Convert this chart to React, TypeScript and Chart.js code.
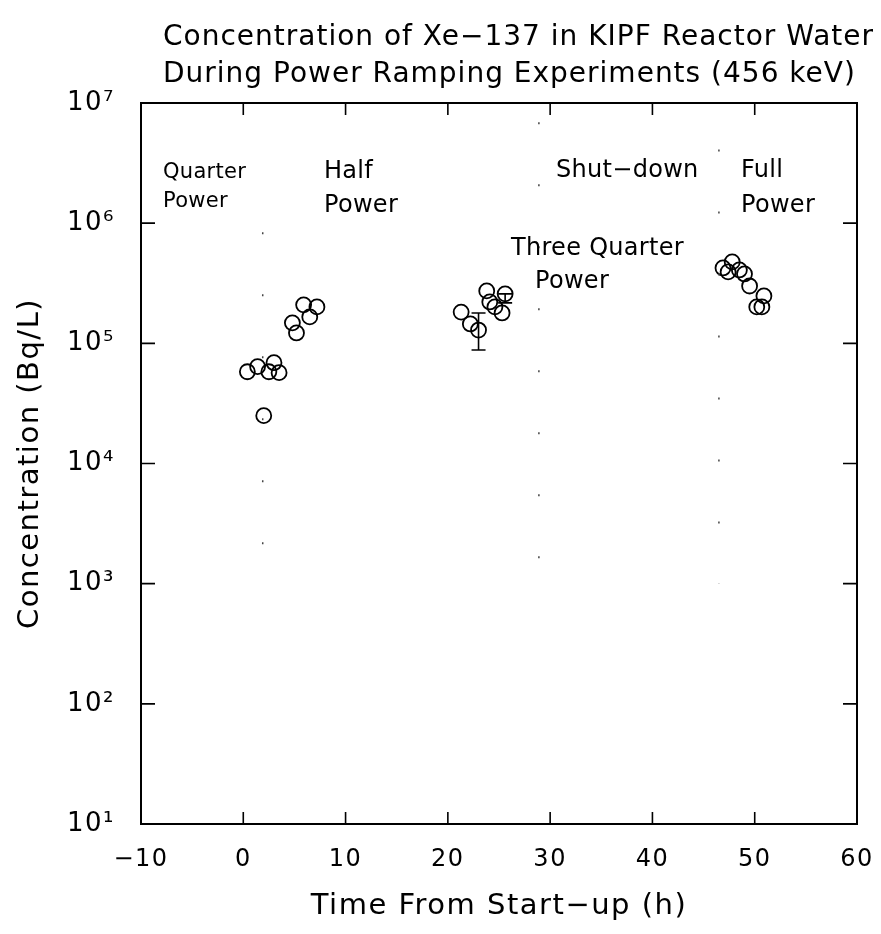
import React, { useEffect, useRef } from "react";
import { Chart, registerables } from "chart.js";

Chart.register(...registerables);

const FONT = "'DejaVu Sans', 'Liberation Sans', sans-serif";

// ---- Data (hours since start-up, Bq/L) ----
const quarterX = [0.4, 1.4, 2.5, 3.0, 3.5, 2.0];
const quarterY = [5.8e4, 6.4e4, 5.8e4, 6.9e4, 5.7e4, 2.5e4];
const halfX = [4.8, 5.2, 5.9, 6.5, 7.2];
const halfY = [1.48e5, 1.22e5, 2.09e5, 1.66e5, 2.01e5];
const threeQuarterX = [21.3, 22.2, 23.0, 23.8, 24.1, 24.6, 25.6, 25.3];
const threeQuarterY = [1.82e5, 1.45e5, 1.29e5, 2.73e5, 2.21e5, 2.01e5, 2.58e5, 1.79e5];
const fullX = [46.9, 47.4, 47.8, 48.5, 49.0, 49.5, 50.2, 50.7, 50.9];
const fullY = [4.24e5, 3.93e5, 4.76e5, 4.08e5, 3.78e5, 3.0e5, 2.01e5, 2.01e5, 2.48e5];

// error bars
const errX = [23.0, 25.6];
const errLow = [8.8e4, 2.17e5];
const errHigh = [1.79e5, 2.58e5];

// dotted phase dividers
const dividerX = [1.9, 28.9, 46.5];
const dividerTop = [8.4e5, 6.9e6, 4.1e6];
const dividerBottom = [1.8e3, 1.5e3, 1.0e3];

// ticks
const xTicks = [-10, 0, 10, 20, 30, 40, 50, 60];
const yTicks = [1e1, 1e2, 1e3, 1e4, 1e5, 1e6, 1e7];

// phase labels (anchored in data coordinates: left edge / baseline)
const phaseLabels = ["Quarter", "Power", "Half", "Power", "Shut\u2212down", "Full", "Power", "Three Quarter", "Power"];
const phaseLabelX = [-7.85, -7.85, 7.89, 7.89, 30.57, 48.66, 48.66, 26.17, 28.52];
const phaseLabelY = [2.38e6, 1.36e6, 2.38e6, 1.24e6, 2.42e6, 2.42e6, 1.24e6, 5.43e5, 2.88e5];
const phaseLabelSize = [21, 21, 24, 24, 24, 24, 24, 24, 24];

const titleLines = [
  "Concentration of Xe\u2212137 in KIPF Reactor Water",
  "During Power Ramping Experiments (456 keV)",
];

const SUP: Record<string, string> = {
  "0": "\u2070", "1": "\u00b9", "2": "\u00b2", "3": "\u00b3", "4": "\u2074",
  "5": "\u2075", "6": "\u2076", "7": "\u2077", "8": "\u2078", "9": "\u2079",
};

export default function App() {
  const ref = useRef<HTMLCanvasElement>(null);

  useEffect(() => {
    const canvas = ref.current;
    if (!canvas) return;

    const pts = (xs: number[], ys: number[]) => xs.map((x, i) => ({ x, y: ys[i] }));
    const circleStyle = {
      pointRadius: 7.5,
      pointHoverRadius: 7.5,
      pointBorderWidth: 1.8,
      pointBorderColor: "#000",
      pointBackgroundColor: "rgba(0,0,0,0)",
      borderColor: "#000",
      backgroundColor: "rgba(0,0,0,0)",
      showLine: false,
    };

    const spacingPlugin = {
      id: "spacing",
      beforeDraw(chart: any) {
        (chart.ctx as any).letterSpacing = "1.5px";
      },
      afterDraw(chart: any) {
        (chart.ctx as any).letterSpacing = "0px";
      },
    };

    const framePlugin = {
      id: "frame",
      afterDatasetsDraw(chart: any) {
        const { ctx, chartArea: a, scales } = chart;
        const x = scales.x;
        const y = scales.y;
        ctx.save();
        ctx.strokeStyle = "#000";
        ctx.lineWidth = 2;
        ctx.strokeRect(a.left, a.top, a.right - a.left, a.bottom - a.top);
        ctx.lineWidth = 1.6;
        ctx.beginPath();
        xTicks.forEach((v) => {
          const px = x.getPixelForValue(v);
          if (px <= a.left + 1 || px >= a.right - 1) return;
          ctx.moveTo(px, a.bottom);
          ctx.lineTo(px, a.bottom - 12);
          ctx.moveTo(px, a.top);
          ctx.lineTo(px, a.top + 12);
        });
        yTicks.forEach((v) => {
          const py = y.getPixelForValue(v);
          if (py <= a.top + 1 || py >= a.bottom - 1) return;
          ctx.moveTo(a.left, py);
          ctx.lineTo(a.left + 14, py);
          ctx.moveTo(a.right, py);
          ctx.lineTo(a.right - 14, py);
        });
        ctx.stroke();
        ctx.restore();
      },
    };

    const errorBarPlugin = {
      id: "errorBars",
      afterDatasetsDraw(chart: any) {
        const { ctx, scales } = chart;
        ctx.save();
        ctx.strokeStyle = "#000";
        ctx.lineWidth = 1.6;
        ctx.beginPath();
        errX.forEach((xv, i) => {
          const px = scales.x.getPixelForValue(xv);
          const lo = scales.y.getPixelForValue(errLow[i]);
          const hi = scales.y.getPixelForValue(errHigh[i]);
          ctx.moveTo(px, lo);
          ctx.lineTo(px, hi);
          ctx.moveTo(px - 7, lo);
          ctx.lineTo(px + 7, lo);
          ctx.moveTo(px - 7, hi);
          ctx.lineTo(px + 7, hi);
        });
        ctx.stroke();
        ctx.restore();
      },
    };

    const textPlugin = {
      id: "texts",
      afterDraw(chart: any) {
        const { ctx, scales } = chart;
        ctx.save();
        ctx.fillStyle = "#000";
        ctx.textAlign = "left";
        ctx.textBaseline = "alphabetic";
        (ctx as any).letterSpacing = "1px";
        ctx.font = `28px ${FONT}`;
        ctx.fillText(titleLines[0], 155, 37);
        ctx.fillText(titleLines[1], 155, 74);
        (ctx as any).letterSpacing = "0.3px";
        phaseLabels.forEach((t, i) => {
          ctx.font = `${phaseLabelSize[i]}px ${FONT}`;
          ctx.fillText(t, scales.x.getPixelForValue(phaseLabelX[i]), scales.y.getPixelForValue(phaseLabelY[i]));
        });
        ctx.restore();
      },
    };

    const chart = new Chart(canvas, {
      type: "scatter",
      data: {
        datasets: [
          ...dividerX.map((x, i) => ({
            label: "divider",
            data: [
              { x, y: dividerTop[i] },
              { x, y: dividerBottom[i] },
            ],
            showLine: true,
            pointRadius: 0,
            pointHoverRadius: 0,
            borderColor: "#444",
            borderWidth: 1.5,
            borderDash: [2, 60],
          })),
          { label: "Quarter Power", data: pts(quarterX, quarterY), ...circleStyle },
          { label: "Half Power", data: pts(halfX, halfY), ...circleStyle },
          { label: "Three Quarter Power", data: pts(threeQuarterX, threeQuarterY), ...circleStyle },
          { label: "Full Power", data: pts(fullX, fullY), ...circleStyle },
        ],
      } as any,
      options: {
        responsive: false,
        animation: false,
        events: [],
        layout: { padding: { top: 95, right: 16, bottom: 0, left: 0 } },
        plugins: {
          legend: { display: false },
          tooltip: { enabled: false },
          title: { display: false },
        },
        scales: {
          x: {
            type: "linear",
            min: -10,
            max: 60,
            afterBuildTicks: (s: any) => {
              s.ticks = xTicks.map((v) => ({ value: v }));
            },
            afterFit: (s: any) => {
              s.height = 102;
              s.paddingLeft = 0;
              s.paddingRight = 0;
            },
            grid: { display: false, drawTicks: false },
            border: { display: false },
            ticks: {
              color: "#000",
              padding: 21,
              maxRotation: 0,
              font: { family: FONT, size: 24 },
              callback: (v: any) => (Number(v) < 0 ? "\u2212" + Math.abs(Number(v)) : String(v)),
            },
            title: {
              display: true,
              text: "Time From Start\u2212up (h)",
              color: "#000",
              font: { family: FONT, size: 29 },
              padding: { top: 0, bottom: 2 },
            },
          },
          y: {
            type: "logarithmic",
            min: 10,
            max: 1e7,
            afterBuildTicks: (s: any) => {
              s.ticks = yTicks.map((v) => ({ value: v }));
            },
            afterFit: (s: any) => {
              s.width = 133;
              s.paddingTop = 0;
              s.paddingBottom = 0;
            },
            grid: { display: false, drawTicks: false },
            border: { display: false },
            ticks: {
              color: "#000",
              padding: 26,
              font: { family: FONT, size: 26 },
              callback: (v: any) => {
                const e = Math.round(Math.log10(Number(v)));
                return "10" + String(e).split("").map((c) => SUP[c]).join("");
              },
            },
            title: {
              display: true,
              text: "Concentration (Bq/L)",
              color: "#000",
              font: { family: FONT, size: 29 },
              padding: { top: 5, bottom: 0 },
            },
          },
        },
      } as any,
      plugins: [spacingPlugin, framePlugin, errorBarPlugin, textPlugin],
    });

    return () => chart.destroy();
  }, []);

  return <canvas ref={ref} width={865} height={918} style={{ display: "block" }} />;
}
